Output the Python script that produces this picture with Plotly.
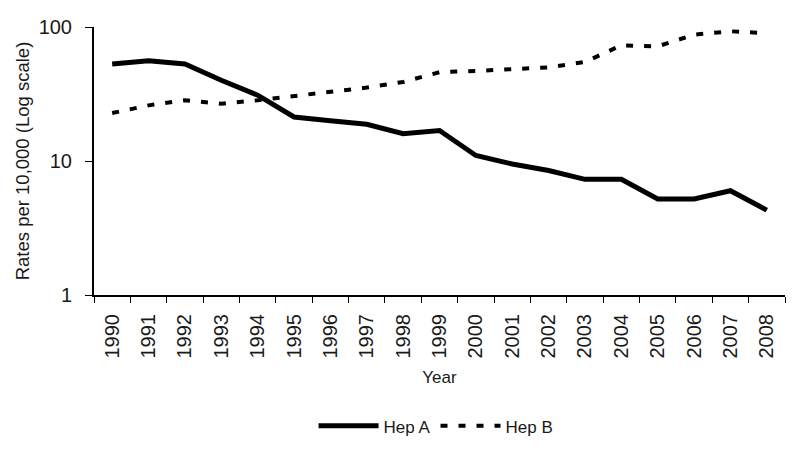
import plotly.graph_objects as go

# data
years = [str(y) for y in range(1990, 2009)]
hep_a = [53, 56, 53, 40, 31, 21.3, 20, 18.8, 16, 16.9, 11, 9.5, 8.5, 7.3, 7.3, 5.2, 5.2, 6.0, 4.3]
hep_b = [22.8, 26, 28.4, 26.8, 28.4, 30.4, 32.7, 35.3, 38.9, 46, 47, 48.6, 50, 54.8, 73, 71.7, 87.7, 92.9, 90]

font = "Liberation Sans, Arial, sans-serif"

fig = go.Figure()
fig.add_trace(go.Scatter(x=years, y=hep_a, name="Hep A", mode="lines",
                         line=dict(color="black", width=5)))
fig.add_trace(go.Scatter(x=years, y=hep_b, name="Hep B", mode="lines",
                         line=dict(color="black", width=4, dash="7px,11px")))

# page body adds 8px offset, margins compensate for it
fig.update_layout(
    width=800, height=450,
    margin=dict(l=86, r=23, t=19, b=163),
    plot_bgcolor="white", paper_bgcolor="white",
    font=dict(family=font, size=17, color="#1a1a1a"),
    showlegend=True,
    legend=dict(orientation="h", x=0.495, xanchor="center", y=-0.49, yanchor="middle",
                font=dict(size=17), itemwidth=60, tracegroupgap=0),
)
fig.update_xaxes(
    type="category", range=[-0.5, 18.5], tickangle=-90, automargin=False,
    showline=True, linecolor="black", linewidth=2,
    ticks="outside", tickson="boundaries", ticklen=6, tickcolor="black",
    ticklabelstandoff=9,
    showgrid=False, tickfont=dict(size=20),
    title=dict(text="Year", font=dict(size=17), standoff=14),
)
fig.update_yaxes(
    type="log", range=[0, 2], tickvals=[1, 10, 100], ticktext=["1", "10", "100"],
    automargin=False,
    showline=True, linecolor="black", linewidth=2,
    ticks="outside", ticklen=7, tickcolor="black",
    ticklabelstandoff=9,
    showgrid=False, zeroline=False, tickfont=dict(size=20),
    title=dict(text="Rates per 10,000 (Log scale)", font=dict(size=18.5), standoff=4),
)

fig.write_html("out.html")
